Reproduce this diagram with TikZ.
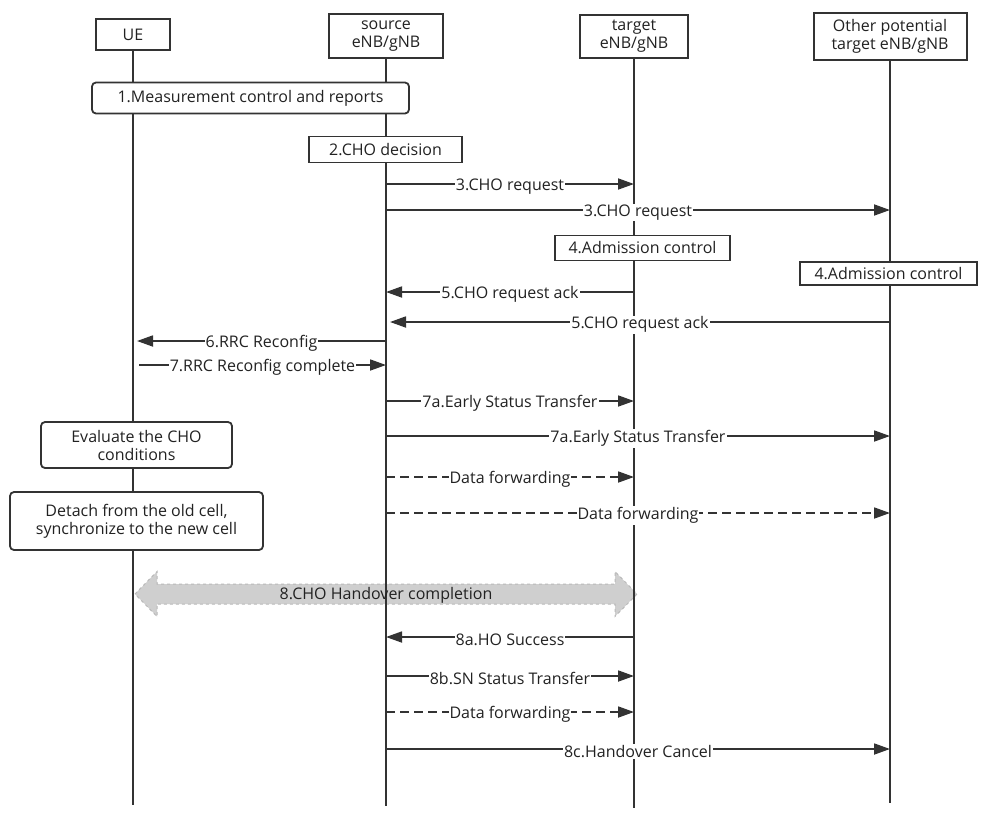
\documentclass[tikz,border=0pt]{standalone}
\usepackage{fontspec}
\setmainfont{Open Sans}
\usetikzlibrary{arrows.meta,calc}
\definecolor{lc}{HTML}{333333}
\definecolor{tc}{HTML}{222222}
\begin{document}
\begin{tikzpicture}[x=1pt,y=-1pt,
  every node/.style={text=tc, font=\fontsize{16}{18}\selectfont},
  hdr/.style={draw=lc, line width=2pt, fill=white, align=center, inner sep=0pt},
  sbox/.style={draw=lc, line width=1.8pt, fill=white, align=center, inner sep=0pt},
  rbox/.style={sbox, rounded corners=4pt},
  life/.style={draw=lc, line width=2pt},
  msg/.style={draw=lc, line width=1.8pt, -{Triangle[length=16pt,width=11pt]}},
  dmsg/.style={msg, dash pattern=on 9pt off 5pt},
  lbl/.style={midway, fill=white, inner sep=1pt, yshift=-2.5pt},
  blockarrow/.style={draw=gray!55, dashed, fill=gray!38, line width=1pt}
]
\useasboundingbox (0,0) rectangle (988,820);
% headers
\node[hdr, minimum width=74pt, minimum height=31pt] (ue) at (133,34.5) {UE};
\node[hdr, minimum width=114pt, minimum height=44pt] (src) at (386,36) {source\\eNB/gNB};
\node[hdr, minimum width=108pt, minimum height=43pt] (tgt) at (634,36.5) {target\\eNB/gNB};
\node[hdr, minimum width=153pt, minimum height=47pt] (oth) at (890,36.5) {Other potential\\target eNB/gNB};
\coordinate (ueE) at (133,805);
\coordinate (srcE) at (386,806);
\coordinate (tgtE) at (634,808);
\coordinate (othE) at (890,803);
% handover completion block arrow (behind lifelines)
\coordinate (hl) at ([xshift=2pt]ue |- 0,594);
\coordinate (hr) at ([xshift=3pt]tgt |- 0,594);
\filldraw[blockarrow] (hl) -- ++(22,-22.5) -- ++(0,12.5) -- ($(hr)+(-22,-10)$) -- ++(0,-12.5) -- (hr)
  -- ++(-22,22.5) -- ++(0,-12.5) -- ($(hl)+(22,10)$) -- ++(0,12.5) -- cycle;
% lifelines
\draw[life] (ue) -- (ueE);
\draw[life] (src) -- (srcE);
\draw[life] (tgt) -- (tgtE);
\draw[life] (oth) -- (othE);
\node[inner sep=0pt] (hoct) at ($(hl)!0.5!(hr)+(0,1)$) {8.CHO Handover completion};
% boxes
\node[rbox, minimum width=317pt, minimum height=31pt] (b1) at (250.5,98) {1.Measurement control and reports};
\node[sbox, minimum width=153pt, minimum height=26pt] (b2) at (385.5,149.5) {2.CHO decision};
\node[sbox, minimum width=175pt, minimum height=25pt] (b4t) at (642.5,248) {4.Admission control};
\node[sbox, minimum width=177pt, minimum height=23pt] (b4o) at (888.5,273.5) {4.Admission control};
\node[rbox, minimum width=191pt, minimum height=46pt] (ev) at (136.5,445) {Evaluate the CHO\\conditions};
\node[rbox, minimum width=253pt, minimum height=58pt] (dt) at (136.5,521) {Detach from the old cell,\\synchronize to the new cell};
% messages
\draw[msg] (src |- 0,184) -- node[lbl]{3.CHO request} (tgt |- 0,184);
\draw[msg] (src |- 0,210) -- node[lbl]{3.CHO request} (oth |- 0,210);
\draw[msg] (tgt |- 0,292) -- node[lbl]{5.CHO request ack} (src |- 0,292);
\draw[msg] (oth |- 0,322) -- node[lbl]{5.CHO request ack} ([xshift=4pt]src |- 0,322);
\draw[msg] (src |- 0,341) -- node[lbl]{6.RRC Reconfig} ([xshift=4pt]ue |- 0,341);
\draw[msg] ([xshift=6pt]ue |- 0,365) -- node[lbl]{7.RRC Reconfig complete} (src |- 0,365);
\draw[msg] (src |- 0,401) -- node[lbl]{7a.Early Status Transfer} (tgt |- 0,401);
\draw[msg] (src |- 0,436) -- node[lbl]{7a.Early Status Transfer} (oth |- 0,436);
\draw[dmsg] (src |- 0,477) -- node[lbl]{Data forwarding} (tgt |- 0,477);
\draw[dmsg] (src |- 0,513) -- node[lbl]{Data forwarding} (oth |- 0,513);
\draw[msg] (tgt |- 0,637) -- node[lbl]{8a.HO Success} (src |- 0,637);
\draw[msg] (src |- 0,676) -- node[lbl]{8b.SN Status Transfer} (tgt |- 0,676);
\draw[dmsg] (src |- 0,712) -- node[lbl]{Data forwarding} (tgt |- 0,712);
\draw[msg] (src |- 0,749) -- node[lbl]{8c.Handover Cancel} (oth |- 0,749);
\end{tikzpicture}
\end{document}
